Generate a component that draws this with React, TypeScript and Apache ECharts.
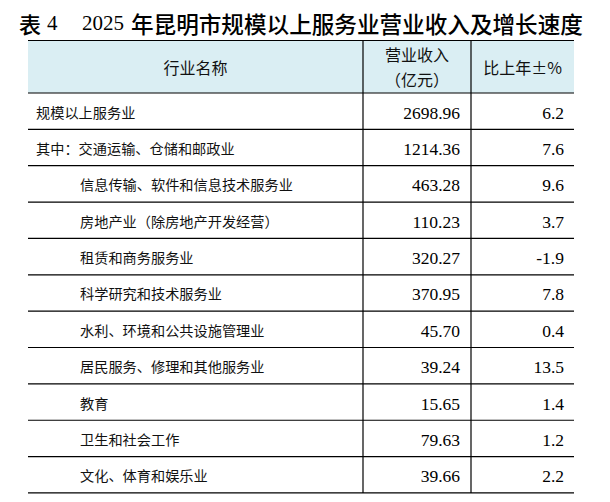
import React, { useEffect, useRef } from "react";
import * as echarts from "echarts";

const title = { prefix: "表", num: "4", year: "2025", rest: "年昆明市规模以上服务业营业收入及增长速度" };
const headers = ["行业名称", "营业收入", "（亿元）", "比上年±%"];
const names = [
  "规模以上服务业",
  "其中：交通运输、仓储和邮政业",
  "信息传输、软件和信息技术服务业",
  "房地产业（除房地产开发经营）",
  "租赁和商务服务业",
  "科学研究和技术服务业",
  "水利、环境和公共设施管理业",
  "居民服务、修理和其他服务业",
  "教育",
  "卫生和社会工作",
  "文化、体育和娱乐业",
];
const indent = [0, 0, 1, 1, 1, 1, 1, 1, 1, 1, 1];
const revenue = [2698.96, 1214.36, 463.28, 110.23, 320.27, 370.95, 45.7, 39.24, 15.65, 79.63, 39.66];
const growth = [6.2, 7.6, 9.6, 3.7, -1.9, 7.8, 0.4, 13.5, 1.4, 1.2, 2.2];

const CJK = '"Noto Sans CJK SC", "Noto Sans", sans-serif';
const SERIF = '"Liberation Serif", "DejaVu Serif", serif';

export default function App() {
  const ref = useRef<HTMLDivElement>(null);
  useEffect(() => {
    if (!ref.current) return;
    const chart = echarts.init(ref.current, null, { renderer: "svg" });
    const left = 28;
    const right = 574;
    const c1 = 363;
    const c2 = 471;
    const top = 40.5;
    const headBottom = 93;
    const rowH = 36.36;
    const bottom = headBottom + rowH * names.length;
    const els: any[] = [];
    els.push({ type: "rect", shape: { x: left, y: top, width: right - left, height: headBottom - top }, style: { fill: "#DAEEF3" }, silent: true });
    const hl = (y: number) => ({ type: "line", shape: { x1: left, y1: y, x2: right, y2: y }, style: { stroke: "#000", lineWidth: 1.2 } });
    els.push(hl(top));
    els.push(hl(headBottom));
    names.forEach((_, i) => els.push(hl(headBottom + rowH * (i + 1))));
    [c1, c2].forEach((x) => els.push({ type: "line", shape: { x1: x, y1: top, x2: x, y2: bottom }, style: { stroke: "#000", lineWidth: 1.2 } }));
    const ty = 23;
    const tt = (text: string, x: number, font: string, size: number, weight: any) => ({
      type: "text", x, y: ty,
      style: { text, fontFamily: font, fontSize: size, fontWeight: weight, fill: "#000", textVerticalAlign: "middle", textAlign: "left" },
    });
    els.push(tt(title.prefix, 19, CJK, 22, 500));
    els.push(tt(title.num, 47, SERIF, 21, "normal"));
    els.push(tt(title.year, 82, SERIF, 21, "normal"));
    els.push(tt(title.rest, 131, CJK, 22.6, 500));
    const hdr = (text: string, x: number, y: number) => ({
      type: "text", x, y,
      style: { text, fontFamily: CJK, fontSize: 16, fill: "#111", textAlign: "center", textVerticalAlign: "middle" },
    });
    els.push(hdr(headers[0], (left + c1) / 2, 67));
    els.push(hdr(headers[1], (c1 + c2) / 2, 54));
    els.push(hdr(headers[2], (c1 + c2) / 2, 79));
    els.push(hdr(headers[3], (c2 + right) / 2, 67));
    names.forEach((n, i) => {
      const cy = headBottom + rowH * i + rowH / 2 + 0.5;
      els.push({
        type: "text", x: indent[i] ? 80 : 36, y: cy,
        style: { text: n, fontFamily: CJK, fontSize: 14.2, fill: "#111", textAlign: "left", textVerticalAlign: "middle" },
      });
      els.push({
        type: "text", x: 460, y: cy + 1,
        style: { text: revenue[i].toFixed(2), fontFamily: SERIF, fontSize: 17.5, fill: "#000", textAlign: "right", textVerticalAlign: "middle" },
      });
      els.push({
        type: "text", x: 564, y: cy + 1,
        style: { text: growth[i].toFixed(1), fontFamily: SERIF, fontSize: 17.5, fill: "#000", textAlign: "right", textVerticalAlign: "middle" },
      });
    });
    chart.setOption({ animation: false, backgroundColor: "#fff", graphic: { elements: els } });
    return () => chart.dispose();
  }, []);
  return <div ref={ref} style={{ position: "fixed", left: 0, top: 0, width: 610, height: 502, background: "#fff" }} />;
}
